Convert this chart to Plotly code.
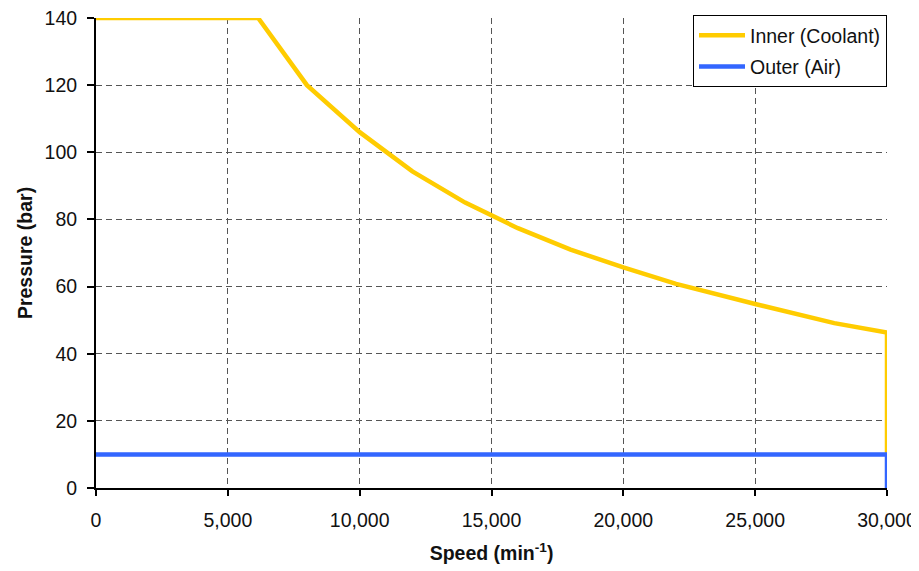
import plotly.graph_objects as go

speed_inner = [0, 6150, 8000, 10000, 12000, 14000, 16000, 18000, 20000, 22000, 25000, 28000, 30000, 30000]
pressure_inner = [140, 140, 120, 106, 94.3, 85, 77.4, 71, 65.7, 60.8, 54.8, 49.1, 46.3, 10]
speed_outer = [0, 30000, 30000]
pressure_outer = [10, 10, 0]

x_ticks = [0, 5000, 10000, 15000, 20000, 25000, 30000]
x_tick_labels = ["0", "5,000", "10,000", "15,000", "20,000", "25,000", "30,000"]
y_ticks = [0, 20, 40, 60, 80, 100, 120, 140]

fig = go.Figure()
fig.add_trace(go.Scatter(x=speed_inner, y=pressure_inner, mode="lines", legendgroup="a",
                         name="Inner (Coolant)", line=dict(color="#FFCC00", width=4.5)))
fig.add_trace(go.Scatter(x=speed_outer, y=pressure_outer, mode="lines", legendgroup="b",
                         name="Outer (Air)", line=dict(color="#3366FF", width=4.5)))

font = "Liberation Sans, Arial, sans-serif"
# page body has an 8px margin, so the figure is offset by (8, 8)
fig.update_layout(
    width=911, height=563,
    margin=dict(l=88, r=32, t=10, b=83, autoexpand=False),
    paper_bgcolor="white", plot_bgcolor="white",
    font=dict(family=font, size=19.5, color="#111"),
    showlegend=True,
    legend=dict(x=1, y=1.0064, xanchor="right", yanchor="top",
                bgcolor="white", bordercolor="black", borderwidth=1,
                font=dict(size=19.5, color="#111"), tracegroupgap=3,
                itemwidth=46),
    xaxis=dict(range=[0, 30000], tickvals=x_ticks, ticktext=x_tick_labels,
               automargin=False, ticklabeloverflow="allow",
               showgrid=True, gridcolor="#555", griddash="6px,4px", gridwidth=1,
               showline=True, linecolor="black", linewidth=2,
               ticks="outside", ticklen=6, tickwidth=2, tickcolor="black",
               ticklabelstandoff=8, zeroline=False,
               title=dict(text="<b>Speed (min<sup>-1</sup>)</b>", font=dict(size=19.5), standoff=16)),
    yaxis=dict(range=[0, 140], tickvals=y_ticks, automargin=False,
               ticklabeloverflow="allow",
               showgrid=True, gridcolor="#555", griddash="6px,4px", gridwidth=1,
               showline=True, linecolor="black", linewidth=2,
               ticks="outside", ticklen=7, tickwidth=2, tickcolor="black",
               ticklabelstandoff=6, zeroline=False,
               title=dict(text="<b>Pressure (bar)</b>", font=dict(size=19.5), standoff=7)),
)

fig.write_html("out.html")
